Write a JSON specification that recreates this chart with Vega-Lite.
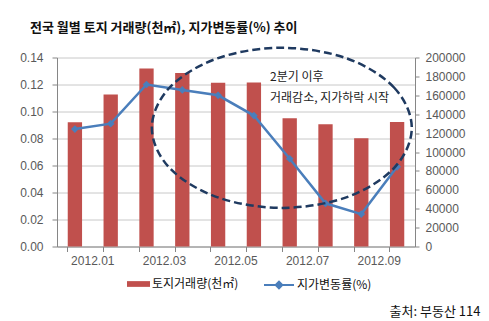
{
  "$schema": "https://vega.github.io/schema/vega-lite/v6.json",
  "width": 358,
  "height": 189,
  "autosize": "none",
  "padding": {"left": 57, "top": 57.5, "right": 74, "bottom": 74.5},
  "background": "white",
  "title": {
    "text": "전국 월별 토지 거래량(천㎡), 지가변동률(%) 추이",
    "anchor": "start",
    "frame": "group",
    "dx": -27,
    "dy": 10,
    "offset": 18,
    "font": "Noto Sans CJK KR",
    "fontSize": 13,
    "fontWeight": "bold",
    "color": "#111111"
  },
  "config": {
    "view": {"stroke": null},
    "axis": {
      "labelFont": "Liberation Sans",
      "labelFontSize": 12,
      "labelColor": "#595959",
      "domainColor": "#868686",
      "tickColor": "#868686",
      "gridColor": "#C8C8C8"
    },
    "legend": {
      "labelFont": "Noto Sans CJK KR",
      "labelFontSize": 12,
      "labelColor": "#111111",
      "padding": 0
    }
  },
  "datasets": {
    "monthly": [
      {"month": "2012.01", "area": 131400, "rate": 0.087},
      {"month": "2012.02", "area": 160900, "rate": 0.091},
      {"month": "2012.03", "area": 188400, "rate": 0.120},
      {"month": "2012.04", "area": 183700, "rate": 0.116},
      {"month": "2012.05", "area": 173200, "rate": 0.112},
      {"month": "2012.06", "area": 173600, "rate": 0.097},
      {"month": "2012.07", "area": 135600, "rate": 0.065},
      {"month": "2012.08", "area": 129300, "rate": 0.032},
      {"month": "2012.09", "area": 114500, "rate": 0.024},
      {"month": "2012.10", "area": 131700, "rate": 0.059}
    ],
    "ellipse": [
      {"i": 0, "ex": 9.91, "ey": 0.0879},
      {"i": 1, "ex": 9.42, "ey": 0.1176},
      {"i": 2, "ex": 8.10, "ey": 0.1393},
      {"i": 3, "ex": 6.28, "ey": 0.1472},
      {"i": 4, "ex": 4.47, "ey": 0.1393},
      {"i": 5, "ex": 3.14, "ey": 0.1176},
      {"i": 6, "ex": 2.65, "ey": 0.0879},
      {"i": 7, "ex": 3.14, "ey": 0.0583},
      {"i": 8, "ex": 4.47, "ey": 0.0366},
      {"i": 9, "ex": 6.28, "ey": 0.0286},
      {"i": 10, "ex": 8.10, "ey": 0.0366},
      {"i": 11, "ex": 9.42, "ey": 0.0583}
    ],
    "notes": [
      {"nx": 5.95, "ny": 0.1257, "note": "2분기 이후"},
      {"nx": 5.95, "ny": 0.1102, "note": "거래감소, 지가하락 시작"}
    ]
  },
  "layer": [
    {
      "data": {"name": "monthly"},
      "encoding": {
        "x": {
          "field": "month",
          "type": "ordinal",
          "scale": {"type": "band", "paddingInner": 0.6, "paddingOuter": 0.3},
          "axis": {
            "title": "출처: 부동산 114",
            "titleFont": "Noto Sans CJK KR",
            "titleFontSize": 13,
            "titleFontWeight": "normal",
            "titleColor": "#111111",
            "titleX": 423,
            "titleY": 64.5,
            "titleAlign": "right",
            "titleBaseline": "middle",
            "titleAngle": 0,
            "bandPosition": 0,
            "labelOffset": 17.9,
            "labelAngle": 0,
            "labelOverlap": "parity",
            "labelPadding": 4,
            "tickSize": 5,
            "grid": false
          }
        }
      },
      "layer": [
        {
          "mark": {"type": "bar"},
          "encoding": {
            "y": {
              "field": "area",
              "type": "quantitative",
              "scale": {"domain": [0, 200000], "nice": false},
              "axis": {
                "orient": "right",
                "title": null,
                "tickCount": 10,
                "format": "d",
                "grid": false,
                "tickSize": 4,
                "labelPadding": 6
              }
            },
            "fill": {
              "datum": "토지거래량(천㎡)",
              "scale": {"range": ["#C0504D"]},
              "legend": {
                "orient": "none",
                "legendX": 70,
                "legendY": 215,
                "title": null,
                "symbolType": "M-1,-0.25H1V0.25H-1Z",
                "symbolSize": 529,
                "symbolStrokeWidth": 0,
                "labelOffset": 2
              }
            }
          }
        },
        {
          "encoding": {
            "y": {
              "field": "rate",
              "type": "quantitative",
              "scale": {"domain": [0, 0.14], "nice": false},
              "axis": {
                "orient": "left",
                "title": null,
                "tickCount": 7,
                "format": ".2f",
                "grid": true,
                "tickSize": 5,
                "labelPadding": 9
              }
            }
          },
          "layer": [
            {
              "mark": {"type": "line", "strokeWidth": 2.5},
              "encoding": {
                "stroke": {
                  "datum": "지가변동률(%)",
                  "scale": {"range": ["#4A7EBB"]},
                  "legend": {
                    "orient": "none",
                    "legendX": 206,
                    "legendY": 211.5,
                    "title": null,
                    "symbolType": "M-1,0H1M-0.22,0L0,-0.22L0.22,0L0,0.22Z",
                    "symbolSize": 900,
                    "symbolStrokeWidth": 2,
                    "symbolFillColor": "#4A7EBB",
                    "labelOffset": 2
                  }
                }
              }
            },
            {
              "mark": {"type": "point", "shape": "diamond", "filled": true, "size": 60, "color": "#4A7EBB", "opacity": 1}
            }
          ]
        }
      ],
      "resolve": {"scale": {"y": "independent"}}
    },
    {
      "layer": [
        {
          "data": {"name": "ellipse"},
          "mark": {"type": "line", "interpolate": "cardinal-closed", "stroke": "#1F3A60", "strokeWidth": 2.5, "strokeDash": [8, 4]},
          "encoding": {
            "x": {"field": "ex", "type": "quantitative", "scale": {"domain": [0, 10], "nice": false, "zero": false}, "axis": null},
            "y": {"field": "ey", "type": "quantitative", "scale": {"domain": [0, 0.14], "nice": false}, "axis": null},
            "order": {"field": "i", "type": "quantitative"}
          }
        },
        {
          "data": {"name": "notes"},
          "mark": {"type": "text", "align": "left", "baseline": "middle", "font": "Noto Sans CJK KR", "fontSize": 12, "color": "#222222"},
          "encoding": {
            "x": {"field": "nx", "type": "quantitative", "scale": {"domain": [0, 10], "nice": false, "zero": false}, "axis": null},
            "y": {"field": "ny", "type": "quantitative", "scale": {"domain": [0, 0.14], "nice": false}, "axis": null},
            "text": {"field": "note"}
          }
        }
      ]
    }
  ],
  "resolve": {"scale": {"x": "independent", "y": "independent"}}
}
